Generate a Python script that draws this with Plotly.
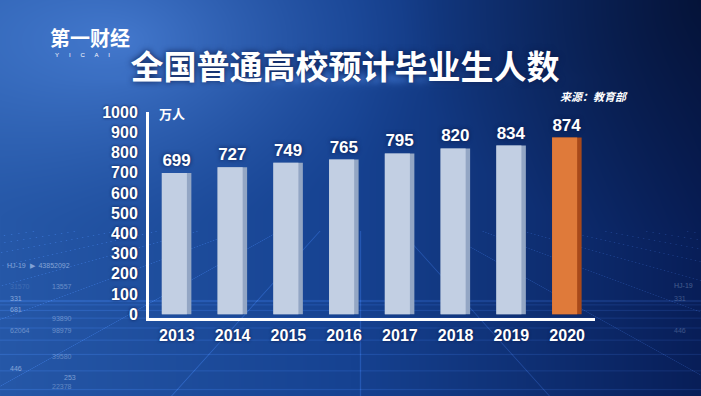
import base64, struct, zlib
import numpy as np
import plotly.graph_objects as go

# ---------------- data ----------------
years = ["2013", "2014", "2015", "2016", "2017", "2018", "2019", "2020"]
graduates = [699, 727, 749, 765, 795, 820, 834, 874]  # 万人
y_ticks = [0, 100, 200, 300, 400, 500, 600, 700, 800, 900, 1000]
title_text = "全国普通高校预计毕业生人数"
source_text = "来源：教育部"
unit_text = "万人"

# ---------------- geometry ----------------
W, H = 701, 396
ML, MR, MT, MB = 149, 106, 112, 78
PW, PH = W - ML - MR, H - MT - MB


def px(x):
    return (x - ML) / PW


def py(y):
    return 1 - (y - MT) / PH


# ---------------- background image (decoration) ----------------
yy, xx = np.mgrid[0:H, 0:W].astype(float)
t = (xx / W)[..., None]
left = np.array([38, 88, 168], float)
mid = np.array([22, 66, 145], float)
right = np.array([8, 30, 88], float)
img = np.where(t < 0.5, left * (1 - t * 2) + mid * (t * 2), mid * (2 - t * 2) + right * (t * 2 - 1))
d = np.sqrt(((xx - 120) / 330) ** 2 + ((yy - 40) / 190) ** 2)
glow = np.clip(1 - d, 0, 1) ** 1.4
img = img + glow[..., None] * np.array([35, 40, 45])
d2 = np.sqrt(((xx - 701) / 300) ** 2 + ((yy - 0) / 250) ** 2)
img = img * (1 - 0.35 * np.clip(1 - d2, 0, 1)[..., None])
streak = np.exp(-((yy - 78) / 6) ** 2) * np.exp(-((xx - 330) / 120) ** 2)
img = img + streak[..., None] * np.array([30, 40, 50])
grid = np.zeros((H, W))
for k in range(-20, 21):
    xline = 360 + k * 40 + (yy - 230) * k * 0.9
    grid += np.exp(-((xx - xline) / 0.7) ** 2) * (yy > 230) * 0.5
for r in range(0, 12):
    yl = 300 + r * r * 1.1
    grid += np.exp(-((yy - yl) / 0.6) ** 2) * 0.35
img = img + np.clip(grid, 0, 1)[..., None] * np.array([30, 45, 70])
img = np.clip(img, 0, 255).astype(np.uint8)


def to_png(arr):
    h, w, _ = arr.shape
    raw = b"".join(b"\x00" + arr[i].tobytes() for i in range(h))

    def chunk(tag, data):
        c = struct.pack(">I", len(data)) + tag + data
        return c + struct.pack(">I", zlib.crc32(tag + data) & 0xFFFFFFFF)

    return (b"\x89PNG\r\n\x1a\n" + chunk(b"IHDR", struct.pack(">IIBBBBB", w, h, 8, 2, 0, 0, 0))
            + chunk(b"IDAT", zlib.compress(raw, 9)) + chunk(b"IEND", b""))


bg_uri = "data:image/png;base64," + base64.b64encode(to_png(img)).decode()

# ---------------- figure ----------------
xpos = list(range(len(years)))
front_cols = ["#c2cfe3"] * (len(years) - 1) + ["#df7a3a"]
side_cols = ["#93a6c4"] * (len(years) - 1) + ["#a8491a"]

fig = go.Figure()
fig.add_trace(go.Bar(
    x=xpos, y=graduates, width=0.53, offset=-0.27,
    marker=dict(color=side_cols, line=dict(width=0)),
    text=[str(v) for v in graduates], textposition="outside", cliponaxis=False,
    textfont=dict(family="Liberation Sans, Arial, sans-serif", size=17, color="white",
                  weight="bold", shadow="0px 0px 4px #0a1a4a"),
    hoverinfo="skip",
))
fig.add_trace(go.Bar(
    x=xpos, y=graduates, width=0.45, offset=-0.27,
    marker=dict(color=front_cols, line=dict(width=0)),
    hoverinfo="skip",
))

font_b = dict(family="Liberation Sans, Arial, sans-serif", color="white", weight="bold")

fig.update_layout(
    width=W, height=H,
    margin=dict(l=ML, r=MR, t=MT, b=MB),
    paper_bgcolor="#1a3f86",
    plot_bgcolor="rgba(0,0,0,0)",
    barmode="overlay",
    showlegend=False,
    images=[dict(source=bg_uri, xref="paper", yref="paper", x=px(0), y=py(0),
                 sizex=W / PW, sizey=H / PH, xanchor="left", yanchor="top",
                 sizing="stretch", layer="below")],
    xaxis=dict(range=[-0.5, 7.5], tickvals=xpos, ticktext=years, showgrid=False,
               zeroline=False, showline=True, linecolor="white", linewidth=3,
               ticks="outside", ticklen=1, tickcolor="rgba(0,0,0,0)",
               tickfont=dict(size=16, **font_b, shadow="0px 0px 3px #0a1a4a"),
               fixedrange=True),
    yaxis=dict(range=[-18, 1000], tickvals=y_ticks, showgrid=False, zeroline=False,
               showline=True, linecolor="white", linewidth=3,
               ticks="outside", ticklen=5, tickcolor="rgba(0,0,0,0)",
               tickfont=dict(size=16, **font_b, shadow="0px 0px 3px #0a1a4a"),
               fixedrange=True),
    title=dict(text=title_text, x=0.492, y=1 - 67 / H, xanchor="center", yanchor="middle",
               xref="container", yref="container",
               font=dict(family="Noto Sans CJK SC, sans-serif", size=33, color="white",
                         weight="bold", shadow="0px 0px 6px #0a1a4a")),
)

annotations = [
    dict(text="第一财经", x=px(48), y=py(38), xanchor="left", yanchor="middle",
         font=dict(family="Noto Sans CJK SC, sans-serif", size=20, color="white", weight="bold")),
    dict(text="Y      I      C      A      I", x=px(53), y=py(55), xanchor="left", yanchor="middle",
         font=dict(family="Liberation Sans, sans-serif", size=6, color="white")),
    dict(text="<i>" + source_text + "</i>", x=px(630), y=py(96), xanchor="right", yanchor="middle",
         font=dict(family="Noto Sans CJK SC, sans-serif", size=11, color="white", weight="bold")),
    dict(text=unit_text, x=px(157), y=py(113), xanchor="left", yanchor="middle",
         font=dict(family="Noto Sans CJK SC, sans-serif", size=13, color="white", weight="bold")),
]
deco = [
    ("HJ-19  ▶  43852092", 5, 265, 0.55), ("13557", 50, 286, 0.4), ("31570", 8, 286, 0.15),
    ("331", 8, 298, 0.55), ("681", 8, 309, 0.55), ("93890", 50, 318, 0.4),
    ("62064", 8, 330, 0.4), ("98979", 50, 330, 0.4), ("39580", 50, 356, 0.35),
    ("446", 8, 368, 0.55), ("253", 62, 377, 0.5), ("22378", 50, 386, 0.35),
    ("HJ-19", 672, 285, 0.3), ("331", 672, 298, 0.25), ("446", 672, 330, 0.25),
]
for txt, x0, y0, op in deco:
    annotations.append(dict(text=txt, x=px(x0), y=py(y0), xanchor="left", yanchor="middle",
                            opacity=op,
                            font=dict(family="Liberation Sans, sans-serif", size=7, color="#cfe0ff")))
for a in annotations:
    a.update(xref="paper", yref="paper", showarrow=False)
fig.update_layout(annotations=annotations)

fig.write_html(
    "out.html",
    config={"displayModeBar": False},
    post_script="document.body.style.margin='0';document.body.style.padding='0';"
                "document.body.style.overflow='hidden';document.body.style.background='#1a3f86';",
)
